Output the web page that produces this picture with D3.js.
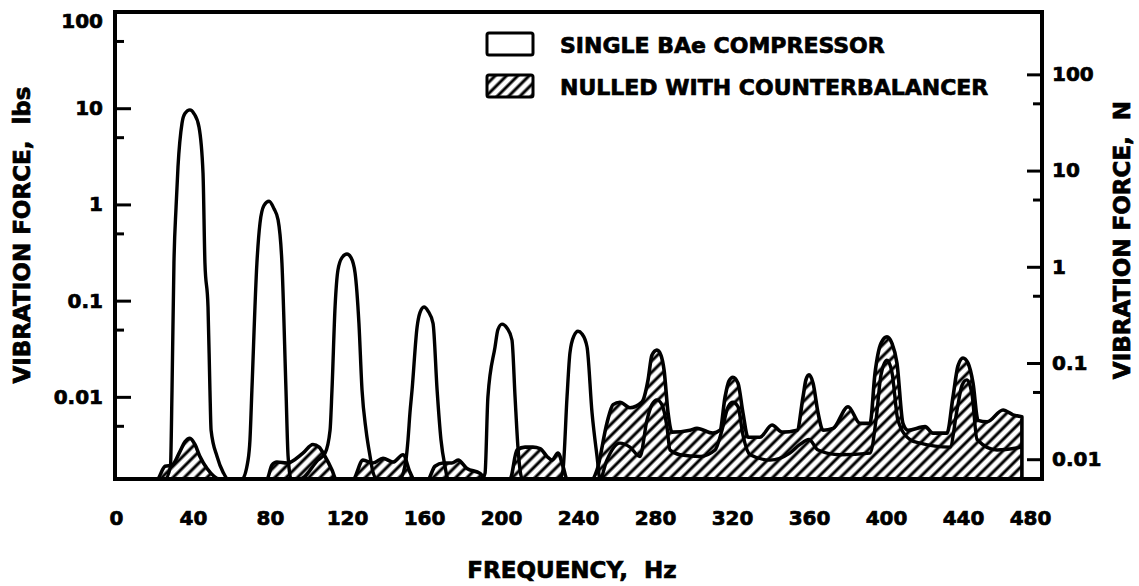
<!DOCTYPE html>
<html>
<head>
<meta charset="utf-8">
<title></title>
<script src="https://d3js.org/d3.v7.min.js"></script>
<style>
body { margin: 0; background: #fff; }
svg { display: block; }
text { font-family: "DejaVu Sans", sans-serif; font-weight: bold; fill: #000; stroke: #000; stroke-width: 0.7px; }
</style>
</head>
<body>
<div id="chart"></div>
<script>
// single BAe compressor spectrum (Hz, lbs)
const singleFreq = [20, 25.5, 28.3, 29.1, 30.1, 31.2, 32.2, 34.3, 35.8, 38.4, 40.5, 43.1, 45.2, 46.2, 47.8, 48.8, 49.4, 52.5, 55.6, 58.2,
  65.5, 68.6, 69.6, 70.6, 73.2, 74.8, 76.9, 79.5, 82.1, 84.2, 86.2, 88.3, 89.4, 91,
  95.6, 104.9, 108.6, 111.2, 112.2, 113.8, 115.3, 117.4, 120, 122.1, 124.2, 126.2, 127.8, 129.9, 132, 133.5, 135.6,
  147.5, 150.6, 151.7, 152.7, 153.8, 156.4, 157.9, 160, 162.1, 164.7, 166.8, 168.8, 170.9, 172.5,
  190.1, 191.7, 193.2, 196.9, 198.4, 200.5, 203.1, 205.7, 207.3, 208.8, 209.9, 211,
  230.6, 232.2, 234.3, 235.8, 237.9, 240, 242.1, 244.7, 247.3, 249.9, 251.4,
  255, 261.8, 267, 272.2, 275.8, 278.4, 281, 283.6, 286.2, 287.8, 293, 303.4, 311.2, 314.8, 318, 320.5, 323.1, 325.7, 329.4,
  339.7, 350, 355.3, 360, 364.7, 376.1, 391.7, 394.8, 397.4, 400.5, 403.1, 406.2, 412.5, 417.7, 433.2, 436.9, 439.5, 442, 444.7,
  447.3, 457.7, 470.6];
const singleForce = [0.0014, 0.0014, 0.0019, 0.0118, 0.246, 0.94, 2.45, 7.0, 8.8, 9.6, 8.8, 6.4, 2.12, 0.246, 0.086, 0.0118, 0.0045, 0.0024, 0.00165, 0.0014,
  0.0014, 0.0022, 0.0036, 0.0118, 0.246, 0.64, 0.98, 1.08, 0.9, 0.69, 0.246, 0.0118, 0.0024, 0.0014,
  0.0014, 0.0022, 0.0026, 0.0045, 0.0118, 0.086, 0.208, 0.28, 0.305, 0.28, 0.194, 0.058, 0.0118, 0.0045, 0.0024, 0.00165, 0.0014,
  0.0014, 0.0022, 0.0036, 0.0068, 0.0118, 0.053, 0.075, 0.086, 0.078, 0.058, 0.0118, 0.0036, 0.0019, 0.0014,
  0.0014, 0.0016, 0.01, 0.033, 0.05, 0.057, 0.052, 0.039, 0.01, 0.003, 0.00174, 0.0014,
  0.0014, 0.00174, 0.01, 0.0285, 0.043, 0.048, 0.045, 0.033, 0.0068, 0.0024, 0.0014,
  0.0022, 0.0033, 0.003, 0.0024, 0.0057, 0.0083, 0.0093, 0.0083, 0.0049, 0.0028, 0.0025, 0.0024, 0.0028, 0.0045, 0.0079, 0.0088, 0.0079, 0.004, 0.0025,
  0.0022, 0.0026, 0.0032, 0.0036, 0.0028, 0.0025, 0.0026, 0.0057, 0.0169, 0.024, 0.018, 0.0057, 0.0036, 0.0033, 0.003, 0.0073, 0.0132, 0.015, 0.0105,
  0.0036, 0.0028, 0.003];

// nulled with counterbalancer (Hz, lbs)
const nulledFreq = [19.7, 21.3, 25.5, 29.1, 33.2, 35.8, 38.4, 41, 43.6, 47.3, 54,
  78.4, 81, 83.6, 88.8, 97.1, 102.3, 105.5, 108.6, 112.2, 114.3,
  123.1, 128.3, 133.5, 138.7, 143.9, 149.1, 152.7, 154.8,
  162, 165.7, 169.9, 174.5, 177.7, 182.3, 189.1, 192.2,
  204.7, 208.3, 212.5, 216.6, 220.3, 223.9, 226.5, 229.6, 232.2, 234.3,
  247.3, 249.9, 255, 258.2, 261.8, 267, 273.2, 276.4, 278.4, 281, 283.1, 284.7, 286.8, 288.8, 298.2, 301.8, 310.1, 313.8,
  316.4, 318.4, 320.5, 323.1, 325.7, 328.3, 334.5, 340.8, 346, 353.8, 356.9, 358.4, 360, 362.1, 364.7, 367.3, 372.5, 380.3,
  386.5, 391.7, 394.3, 397.4, 400.5, 403.1, 405.7, 408.8, 411.4, 420.3, 424.4, 431.7, 434.8, 437.4, 440, 442.6, 445.2, 447.8,
  452.5, 460.8, 466, 470.6];
const nulledForce = [0.0014, 0.0014, 0.0019, 0.00195, 0.0027, 0.0034, 0.0037, 0.0032, 0.0024, 0.0018, 0.0014,
  0.0014, 0.00195, 0.0021, 0.00205, 0.0026, 0.0032, 0.003, 0.0024, 0.00174, 0.0014,
  0.0014, 0.0022, 0.00205, 0.0023, 0.0021, 0.0025, 0.00165, 0.0014,
  0.0014, 0.0019, 0.00205, 0.00205, 0.0022, 0.0018, 0.0016, 0.0014,
  0.0014, 0.0028, 0.003, 0.003, 0.0029, 0.0024, 0.0022, 0.0026, 0.0019, 0.0014,
  0.0014, 0.00174, 0.0053, 0.0083, 0.0088, 0.0077, 0.0088, 0.015, 0.027, 0.0306, 0.027, 0.019, 0.0068, 0.0043, 0.0045, 0.0047, 0.0042, 0.0045,
  0.01, 0.0146, 0.016, 0.0139, 0.0068, 0.0038, 0.0038, 0.0051, 0.0043, 0.0045, 0.01, 0.015, 0.0169, 0.0139, 0.0068, 0.0045, 0.0047, 0.0079,
  0.0053, 0.0053, 0.0177, 0.036, 0.042, 0.036, 0.0224, 0.0053, 0.0045, 0.0049, 0.0042, 0.0042, 0.01, 0.021, 0.0253, 0.0224, 0.0139, 0.0057,
  0.0055, 0.0073, 0.0065, 0.0062];

const xTicks = [0, 40, 80, 120, 160, 200, 240, 280, 320, 360, 400, 440, 480];
const lbsMajor = [100, 10, 1, 0.1, 0.01];
const lbsMinor = [50, 5, 0.5, 0.05, 0.005];
const newtonMajor = [100, 10, 1, 0.1, 0.01];
const newtonMinor = [50, 5, 0.5, 0.05];
const lbsToN = 4.448;

const legendLabels = ['SINGLE BAe COMPRESSOR', 'NULLED WITH COUNTERBALANCER'];

const W = 1139, H = 586;
const plot = { left: 115, right: 1042, top: 12, bottom: 479 };

const x = d3.scaleLinear().domain([0, 480]).range([116, 1040]);
const y = d3.scaleLog().domain([0.0014, 100]).range([plot.bottom, plot.top]).clamp(true);
const yN = d3.scaleLog().domain([0.0014 * lbsToN, 100 * lbsToN]).range([plot.bottom, plot.top]);

const svg = d3.select('#chart').append('svg')
    .attr('width', W)
    .attr('height', H);

svg.append('rect').attr('width', W).attr('height', H).attr('fill', '#fff');

const defs = svg.append('defs');
const pat = defs.append('pattern')
    .attr('id', 'hatch')
    .attr('patternUnits', 'userSpaceOnUse')
    .attr('width', 8)
    .attr('height', 8)
    .attr('patternTransform', 'rotate(45)');
pat.append('line')
    .attr('x1', 4).attr('y1', 0).attr('x2', 4).attr('y2', 8)
    .attr('stroke', '#000').attr('stroke-width', 3);

const single = singleFreq.map((f, i) => ({ f, v: singleForce[i] }));
const nulled = nulledFreq.map((f, i) => ({ f, v: nulledForce[i] }));

// nulled spectrum, hatched
svg.append('path')
    .datum(nulled)
    .attr('d', d3.area()
        .x(d => x(d.f))
        .y0(plot.bottom)
        .y1(d => y(d.v))
        .curve(d3.curveMonotoneX))
    .attr('fill', 'url(#hatch)')
    .attr('stroke', '#000')
    .attr('stroke-width', 3.6)
    .attr('stroke-linejoin', 'round');

// single compressor spectrum, outline
svg.append('path')
    .datum(single)
    .attr('d', d3.line()
        .x(d => x(d.f))
        .y(d => y(d.v))
        .curve(d3.curveMonotoneX))
    .attr('fill', 'none')
    .attr('stroke', '#000')
    .attr('stroke-width', 3.4)
    .attr('stroke-linejoin', 'round');

// frame
svg.append('rect')
    .attr('x', plot.left)
    .attr('y', plot.top)
    .attr('width', plot.right - plot.left)
    .attr('height', plot.bottom - plot.top)
    .attr('fill', 'none')
    .attr('stroke', '#000')
    .attr('stroke-width', 4);

function styleAxis(g) {
    g.select('.domain').remove();
    g.selectAll('line').attr('stroke', '#000').attr('stroke-width', 3);
    g.selectAll('text')
        .attr('font-family', '"DejaVu Sans", sans-serif')
        .attr('font-weight', 'bold')
        .attr('font-size', 20)
        .attr('fill', '#000');
}

// left axis (lbs)
svg.append('g')
    .attr('transform', `translate(${plot.left},0)`)
    .call(d3.axisLeft(y).tickValues(lbsMajor).tickSize(-16).tickPadding(12).tickFormat(d => String(d)))
    .call(styleAxis)
    .call(g => g.selectAll('text').filter(d => d === 100).attr('dy', '0.75em'));
svg.append('g')
    .attr('transform', `translate(${plot.left},0)`)
    .call(d3.axisLeft(y).tickValues(lbsMinor).tickSize(-9).tickFormat(''))
    .call(styleAxis);

// right axis (N)
svg.append('g')
    .attr('transform', `translate(${plot.right},0)`)
    .call(d3.axisRight(yN).tickValues(newtonMajor).tickSize(-15).tickPadding(10).tickFormat(d => String(d)))
    .call(styleAxis);
svg.append('g')
    .attr('transform', `translate(${plot.right},0)`)
    .call(d3.axisRight(yN).tickValues(newtonMinor).tickSize(-9).tickFormat(''))
    .call(styleAxis);

// bottom axis labels
svg.append('g')
    .attr('transform', `translate(0,${plot.bottom})`)
    .call(d3.axisBottom(x).tickValues(xTicks).tickSize(0).tickPadding(32))
    .call(styleAxis)
    .call(g => g.selectAll('text').filter(d => d === 480).attr('dx', -10));

// axis titles
svg.append('text')
    .attr('transform', 'translate(22,235) rotate(-90)')
    .attr('text-anchor', 'middle')
    .attr('dominant-baseline', 'central')
    .attr('font-size', 23)
    .style('white-space', 'pre')
    .text('VIBRATION FORCE,  lbs');

svg.append('text')
    .attr('transform', 'translate(1122,240) rotate(-90)')
    .attr('text-anchor', 'middle')
    .attr('dominant-baseline', 'central')
    .attr('font-size', 23)
    .style('white-space', 'pre')
    .text('VIBRATION FORCE,  N');

svg.append('text')
    .attr('x', 572)
    .attr('y', 570)
    .attr('text-anchor', 'middle')
    .attr('dominant-baseline', 'central')
    .attr('font-size', 23)
    .style('white-space', 'pre')
    .text('FREQUENCY,  Hz');

// legend
const legend = svg.append('g').attr('transform', 'translate(487,33)');
legend.selectAll('rect')
    .data(legendLabels)
    .join('rect')
    .attr('x', 0)
    .attr('y', (d, i) => i * 42)
    .attr('width', 46)
    .attr('height', 22)
    .attr('rx', 2)
    .attr('fill', (d, i) => i === 0 ? '#fff' : 'url(#hatch)')
    .attr('stroke', '#000')
    .attr('stroke-width', 3);
legend.selectAll('text')
    .data(legendLabels)
    .join('text')
    .attr('x', 73)
    .attr('y', (d, i) => i * 42 + 12)
    .attr('dominant-baseline', 'central')
    .attr('font-size', 22)
    .text(d => d);
</script>
</body>
</html>
